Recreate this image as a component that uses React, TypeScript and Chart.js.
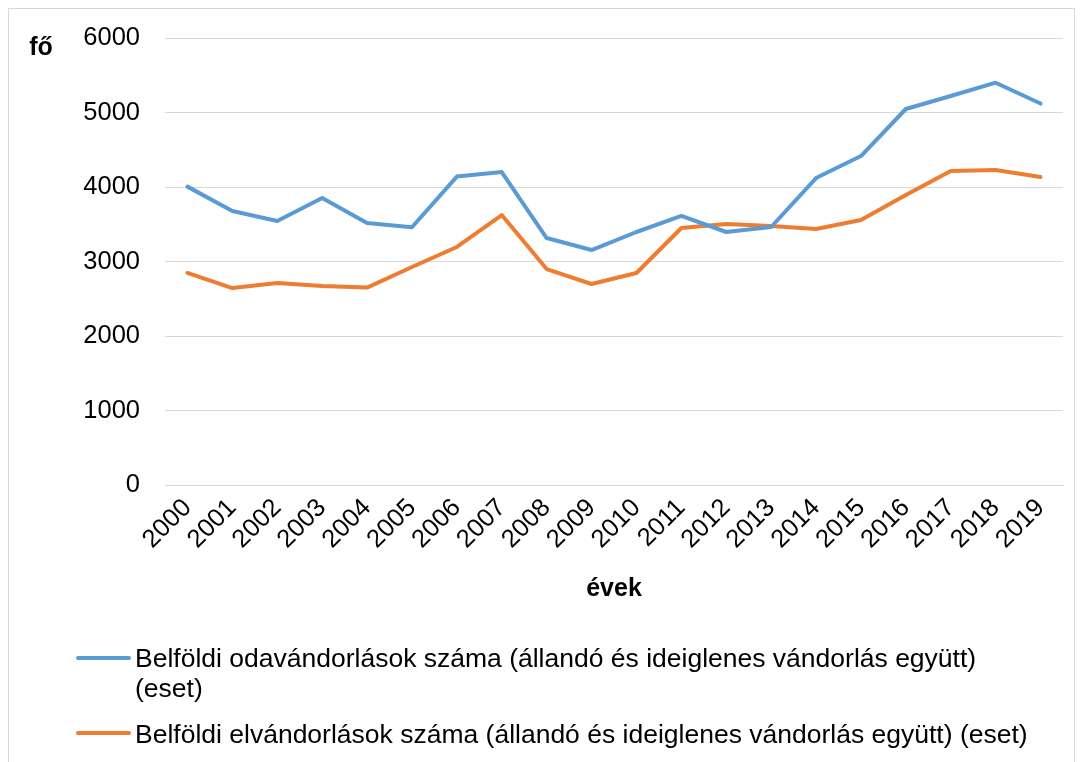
import React, { useEffect, useRef } from "react";
import { Chart, registerables } from "chart.js";

Chart.register(...registerables);

const years = ["2000","2001","2002","2003","2004","2005","2006","2007","2008","2009","2010","2011","2012","2013","2014","2015","2016","2017","2018","2019"];
const inflow = [4005, 3678, 3544, 3852, 3517, 3460, 4140, 4201, 3315, 3154, 3396, 3611, 3396, 3463, 4120, 4416, 5047, 5221, 5400, 5120];
const outflow = [2846, 2644, 2711, 2671, 2650, 2926, 3195, 3624, 2899, 2698, 2846, 3450, 3503, 3477, 3436, 3557, 3893, 4215, 4228, 4134];
const seriesNames = [
  ["Belföldi odavándorlások száma (állandó és ideiglenes vándorlás együtt)", "(eset)"],
  ["Belföldi elvándorlások száma (állandó és ideiglenes vándorlás együtt) (eset)"],
];
const yTitle = "fő";
const xTitle = "évek";

const BLUE = "#5B9BD5";
const ORANGE = "#ED7D31";
const FONT = "'Liberation Sans', Arial, sans-serif";

export default function App() {
  const ref = useRef<HTMLCanvasElement | null>(null);
  useEffect(() => {
    if (!ref.current) return;
    const extras = {
      id: "extras",
      afterDraw(chart: any) {
        const ctx = chart.ctx;
        ctx.save();
        ctx.fillStyle = "#000";
        ctx.font = `bold 25px ${FONT}`;
        ctx.textAlign = "center";
        ctx.textBaseline = "middle";
        ctx.fillText(yTitle, 32, 39);
        // legend
        ctx.font = `26.5px ${FONT}`;
        ctx.textAlign = "left";
        ctx.textBaseline = "alphabetic";
        const items = [
          { color: BLUE, lineY: 649, baselines: [658, 688] },
          { color: ORANGE, lineY: 724, baselines: [734] },
        ];
        items.forEach((it, i) => {
          ctx.strokeStyle = it.color;
          ctx.lineWidth = 4;
          ctx.lineCap = "round";
          ctx.beginPath();
          ctx.moveTo(69, it.lineY);
          ctx.lineTo(120, it.lineY);
          ctx.stroke();
          seriesNames[i].forEach((t, j) => {
            ctx.fillText(t, 126, it.baselines[j]);
          });
        });
        ctx.restore();
      },
    };
    const chart = new Chart(ref.current, {
      type: "line",
      data: {
        labels: years,
        datasets: [
          { label: seriesNames[0].join(" "), data: inflow, borderColor: BLUE, backgroundColor: BLUE, borderWidth: 4, pointRadius: 0, tension: 0, borderCapStyle: "round", borderJoinStyle: "round" },
          { label: seriesNames[1].join(" "), data: outflow, borderColor: ORANGE, backgroundColor: ORANGE, borderWidth: 4, pointRadius: 0, tension: 0, borderCapStyle: "round", borderJoinStyle: "round" },
        ],
      },
      options: {
        animation: false,
        responsive: false,
        maintainAspectRatio: false,
        layout: { padding: { left: 0, right: 11, top: 29, bottom: 157 } },
        plugins: { legend: { display: false }, tooltip: { enabled: false }, title: { display: false } },
        scales: {
          x: {
            offset: true,
            grid: { display: false, drawTicks: false },
            border: { display: true, color: "#d9d9d9", width: 1 },
            ticks: { color: "#000", font: { family: FONT, size: 25.5 }, minRotation: 45, maxRotation: 45, padding: 8, autoSkip: false },
            title: { display: true, text: xTitle, color: "#000", font: { family: FONT, size: 25, weight: "bold" }, padding: { top: 0, bottom: 0 } },
            afterFit(scale: any) { scale.height = 119; },
          },
          y: {
            min: 0,
            max: 6000,
            grid: { color: "#d9d9d9", lineWidth: 1, drawTicks: false },
            border: { display: false },
            ticks: { stepSize: 1000, color: "#000", font: { family: FONT, size: 25.5 }, padding: 25, callback: (v: any) => String(v) },
            afterFit(scale: any) {
              scale.width = 156;
              scale.paddingTop = 10;
              scale.paddingBottom = 10;
            },
          },
        },
      },
      plugins: [extras],
    } as any);
    return () => chart.destroy();
  }, []);
  return (
    <div style={{ width: 1067, height: 760, border: "1px solid #d9d9d9", boxSizing: "border-box", background: "#fff" }}>
      <canvas ref={ref} width={1065} height={752} style={{ display: "block" }} />
    </div>
  );
}
